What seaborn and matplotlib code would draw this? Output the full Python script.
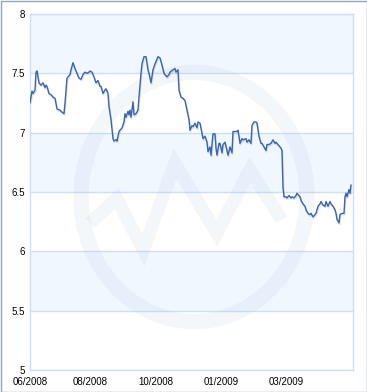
#!/usr/bin/env python3
"""Rate history chart, June 2008 - April 2009."""
import matplotlib
matplotlib.use("Agg")
import matplotlib.pyplot as plt
from matplotlib.patches import Circle, Rectangle
import pandas as pd
import seaborn as sns

# Calendar day offset from the first point, and the value read for each day
days = [
    0, 2, 3, 5, 6, 7, 9, 11, 13, 15, 16, 17, 19, 21, 23, 25, 27, 30, 31, 34,
    35, 37, 40, 41, 43, 45, 47, 49, 51, 53,
    55, 57, 59, 60, 62, 64, 66, 68, 70, 71, 73, 75, 76, 78, 79, 81, 83, 84,
    86, 87, 89, 90, 92, 94, 95, 96, 98, 99, 100, 101, 103, 104, 106,
    108, 109, 111, 112, 114, 116, 118, 119, 121, 123, 125, 128, 130, 132,
    134, 137, 139, 140, 143, 145, 146, 148, 149, 151, 153, 155, 157, 159, 160,
    162, 163, 165, 167, 168, 170, 172, 173, 175, 177, 178, 180, 181, 183,
    185, 186, 187, 189, 190, 192, 193, 195, 197, 198, 200, 202, 203, 205,
    207, 208, 210, 212, 213,
    216, 217, 219, 221, 222, 224, 226, 227, 229, 231, 232, 234, 236, 237,
    239, 241, 243, 245, 246, 248, 250, 251, 252, 253, 254, 256, 257, 259,
    261, 262, 264, 266, 267,
    270, 271, 273, 275, 276, 278, 280, 281, 283, 285, 286, 288, 290, 291,
    293, 295, 296, 298, 300, 301, 303, 305, 306, 307, 309, 310, 312, 314,
    315, 316, 317, 319, 320, 321,
]
rates = [
    7.25, 7.35, 7.33, 7.36, 7.51, 7.52, 7.42, 7.40, 7.42, 7.38, 7.40, 7.39,
    7.33, 7.32, 7.30, 7.29, 7.20, 7.19, 7.18, 7.16, 7.25, 7.46, 7.49, 7.53,
    7.59, 7.54, 7.50, 7.46, 7.45, 7.49,
    7.51, 7.50, 7.51, 7.52, 7.51, 7.47, 7.42, 7.44, 7.39, 7.39, 7.33, 7.36,
    7.37, 7.33, 7.22, 7.11, 6.95, 6.93, 6.94, 6.93, 7.01, 7.02, 7.04, 7.09,
    7.16, 7.13, 7.18, 7.15, 7.19, 7.13, 7.26, 7.15, 7.16,
    7.19, 7.30, 7.50, 7.58, 7.64, 7.64, 7.53, 7.50, 7.42, 7.53, 7.58, 7.64,
    7.63, 7.57, 7.50, 7.47, 7.49, 7.51, 7.53, 7.54, 7.51, 7.53, 7.36, 7.30,
    7.29, 7.27, 7.19, 7.11, 7.02,
    7.06, 7.05, 7.08, 7.04, 7.09, 7.08, 6.99, 6.95, 6.97, 6.92, 6.84, 6.88,
    6.81, 6.99, 6.99, 6.87, 6.81, 6.91, 6.91, 6.83, 6.90, 6.92, 6.85, 6.81,
    6.88, 6.83, 7.01, 7.01, 7.01, 7.02, 6.91, 6.95, 6.94,
    6.95, 6.92, 6.94, 6.91, 7.06, 7.09, 7.09, 7.08, 6.97, 6.91, 6.91, 6.88,
    6.85, 6.90, 6.90, 6.91, 6.94, 6.91, 6.92, 6.90, 6.88, 6.87, 6.85, 6.54,
    6.46, 6.46, 6.45, 6.47, 6.45, 6.46, 6.45, 6.47, 6.49,
    6.46, 6.43, 6.40, 6.38, 6.35, 6.32, 6.31, 6.32, 6.29, 6.31, 6.32, 6.38,
    6.40, 6.42, 6.39, 6.38, 6.42, 6.38, 6.42, 6.40, 6.38, 6.35, 6.32, 6.27,
    6.24, 6.31, 6.32, 6.32, 6.46, 6.49, 6.46, 6.52, 6.49, 6.56,
]

tick_days = [0, 60, 126, 191, 256]
tick_labels = ["06/2008", "08/2008", "10/2008", "01/2009", "03/2009"]
y_ticks = [5, 5.5, 6, 6.5, 7, 7.5, 8]
y_labels = ["5", "5.5", "6", "6.5", "7", "7.5", "8"]

LINE = "#3b66a8"
GRID = "#cfdff3"
BAND = "#f0f7ff"
FRAME = "#90a6bd"

sns.set_style("white")
plt.rcParams["font.family"] = ["Liberation Sans", "DejaVu Sans"]

df = pd.DataFrame({"day": days, "rate": rates})

fig = plt.figure(figsize=(3.67, 3.92), dpi=100)
ax = fig.add_axes([30 / 367, 22 / 392, 323 / 367, 356 / 392])

# alternating bands
for lo in (5.5, 6.5, 7.5):
    ax.axhspan(lo, lo + 0.5, color=BAND, lw=0, zorder=0)
for y in y_ticks:
    ax.axhline(y, color=GRID, lw=1, zorder=1)

# faint logo watermark (axes coords)
wm = dict(color="#8fb2d6", alpha=0.10, zorder=1)
ax.add_patch(Circle((164 / 323, 173 / 356), 0.35, transform=ax.transAxes,
                    fill=False, lw=11, **wm))
zx = [90, 116.7, 143.3, 175, 216.7, 250, 281.7]
zy = [223.3, 198.3, 250, 163.3, 233.3, 170, 220]
ax.plot([(x - 30) / 323 for x in zx], [(370 - y) / 356 for y in zy],
        transform=ax.transAxes, lw=9.5, solid_joinstyle="miter",
        solid_capstyle="butt", **wm)

# soft shadow, then the series
ax.plot(df["day"] + 0.6, df["rate"] - 0.012, color="#9aa3ad", alpha=0.3,
        lw=1.3, zorder=2)
sns.lineplot(data=df, x="day", y="rate", ax=ax, color=LINE, lw=1.0,
             zorder=3, estimator=None)

ax.set_xlim(0, 323)
ax.set_ylim(5, 8)
ax.set_xticks(tick_days)
ax.set_xticklabels(tick_labels)
ax.set_yticks(y_ticks)
ax.set_yticklabels(y_labels)
ax.set_xlabel("")
ax.set_ylabel("")
ax.tick_params(axis="both", length=0, labelsize=7, colors="black")
ax.tick_params(axis="x", pad=5)
ax.tick_params(axis="y", pad=3.5)
for s in ax.spines.values():
    s.set_color(GRID)
    s.set_linewidth(1)

fig.patches.append(Rectangle((0.5 / 367, 0.5 / 392), 366 / 367, 391 / 392,
                             transform=fig.transFigure, fill=False,
                             edgecolor=FRAME, lw=1))

fig.savefig("out.png", dpi=100, facecolor="white")
